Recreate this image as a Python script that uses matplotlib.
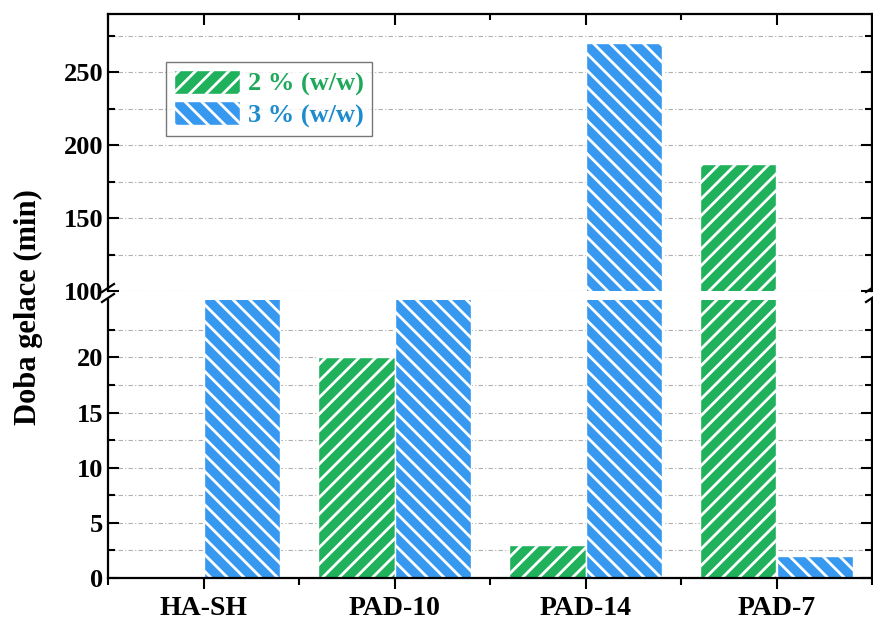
import numpy as np
import matplotlib
matplotlib.use('Agg')
import matplotlib.pyplot as plt
from matplotlib.ticker import MultipleLocator, FixedLocator
from matplotlib.lines import Line2D

# data
samples = ['HA-SH', 'PAD-10', 'PAD-14', 'PAD-7']
gel_2pct = [0, 20, 3, 187]
gel_3pct = [30, 30, 270, 2]   # HA-SH and PAD-10 run off the lower scale
labels = ['2 % (w/w)', '3 % (w/w)']

green = '#1fb15b'
blue = '#3698ee'
green_txt = '#1ea85a'
blue_txt = '#1c8ccc'

plt.rcParams['font.family'] = ['Liberation Serif', 'DejaVu Serif']
plt.rcParams['font.weight'] = 'bold'
plt.rcParams['hatch.linewidth'] = 2.0

W, H = 873, 620
fig = plt.figure(figsize=(W / 100, H / 100), dpi=100)

def box(x0, y0, x1, y1):
    return [x0 / W, 1 - y1 / H, (x1 - x0) / W, (y1 - y0) / H]

ax_hi = fig.add_axes(box(108, 14, 872, 291))
ax_lo = fig.add_axes(box(108, 300, 872, 578))

x = np.arange(len(samples))
wd = 0.4
for ax in (ax_hi, ax_lo):
    ax.bar(x - wd / 2, gel_2pct, wd, color=green, edgecolor='white',
           linewidth=1, hatch='//', label=labels[0], zorder=2)
    ax.bar(x + wd / 2, gel_3pct, wd, color=blue, edgecolor='white',
           linewidth=1, hatch='\\\\', label=labels[1], zorder=2)
    ax.set_xlim(-0.5, 3.5)
    ax.set_xticks(x)
    ax.xaxis.set_minor_locator(MultipleLocator(1, offset=0.5))
    ax.grid(axis='y', which='both', color='#b0b0b0', lw=0.8,
            linestyle=(0, (4, 2, 1, 2)), zorder=0)
    for s in ax.spines.values():
        s.set_linewidth(1.6)
    ax.tick_params(axis='y', which='both', direction='in', left=True,
                   right=True, width=1.5, labelsize=19)
    ax.tick_params(axis='y', which='major', length=8)
    ax.tick_params(axis='y', which='minor', length=5)

ax_hi.set_ylim(100, 290)
ax_hi.yaxis.set_major_locator(MultipleLocator(50))
ax_hi.yaxis.set_minor_locator(MultipleLocator(25))
ax_hi.spines['bottom'].set_visible(False)
ax_hi.tick_params(axis='x', which='both', direction='in', top=True,
                  bottom=False, labelbottom=False, width=1.5)
ax_hi.tick_params(axis='x', which='major', length=8)
ax_hi.tick_params(axis='x', which='minor', length=4)

ax_lo.set_ylim(0, 25.2)
ax_lo.yaxis.set_major_locator(FixedLocator([0, 5, 10, 15, 20]))
ax_lo.yaxis.set_minor_locator(FixedLocator([2.5, 7.5, 12.5, 17.5, 22.5]))
ax_lo.spines['top'].set_visible(False)
ax_lo.set_xticklabels(samples)
ax_lo.tick_params(axis='x', which='both', direction='out', top=False,
                  width=1.5, labelsize=20, pad=5)
ax_lo.tick_params(axis='x', which='major', length=8)
ax_lo.tick_params(axis='x', which='minor', length=5)

# axis break marks
for xb in (108, 872):
    for yb in (288, 298):
        fig.add_artist(Line2D([(xb - 6) / W, (xb + 6) / W],
                              [1 - (yb + 4) / H, 1 - (yb - 4) / H],
                              color='black', lw=1.6))

fig.text(28 / W, 1 - 307 / H, 'Doba gelace (min)', rotation=90,
         ha='center', va='center', fontsize=22, fontweight='bold')

leg = ax_hi.legend(loc='upper left', bbox_to_anchor=(166 / W, 1 - 62 / H),
                   bbox_transform=fig.transFigure, fontsize=19,
                   frameon=True, fancybox=False, edgecolor='#555555',
                   handlelength=2.5, handleheight=1.0, borderpad=0.3,
                   labelspacing=0.2, handletextpad=0.3, borderaxespad=0)
leg.get_frame().set_linewidth(1.0)
for t, c in zip(leg.get_texts(), (green_txt, blue_txt)):
    t.set_color(c)

fig.savefig('out.png', dpi=100)
